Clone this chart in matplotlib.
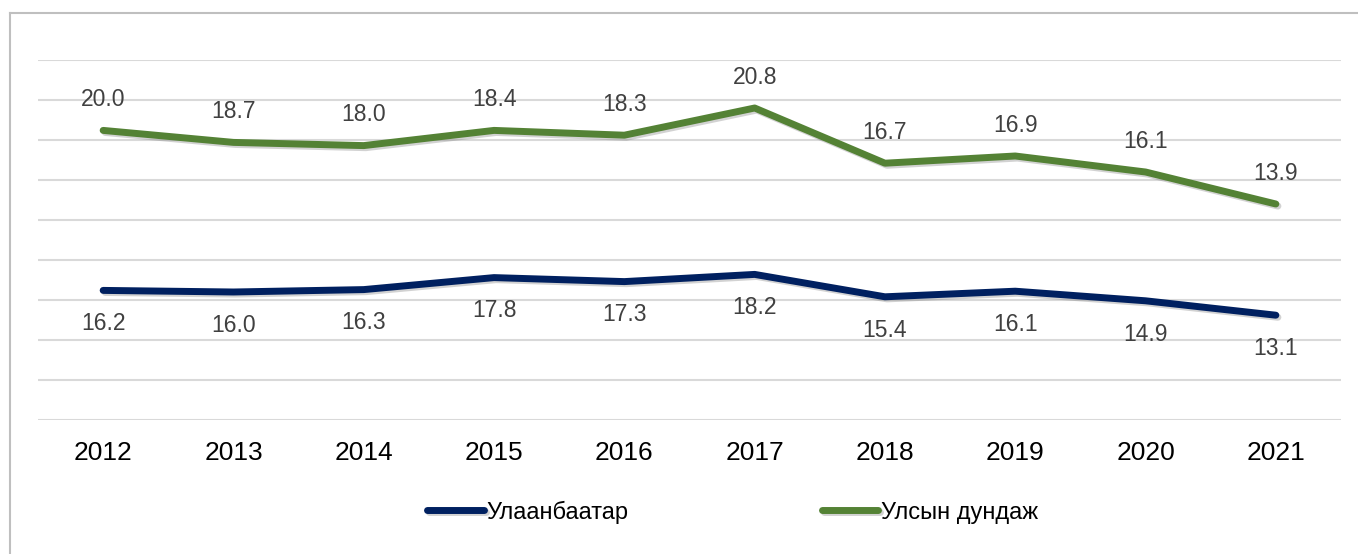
import matplotlib.pyplot as plt
import matplotlib.patheffects as pe
from matplotlib.lines import Line2D
import numpy as np

plt.rcParams['font.family'] = ['Liberation Sans', 'DejaVu Sans']

years = ["2012", "2013", "2014", "2015", "2016", "2017", "2018", "2019", "2020", "2021"]
ulaanbaatar = [16.2, 16.0, 16.3, 17.8, 17.3, 18.2, 15.4, 16.1, 14.9, 13.1]
national = [20.0, 18.7, 18.0, 18.4, 18.3, 20.8, 16.7, 16.9, 16.1, 13.9]

blue = "#002060"
green = "#548235"
label_color = "#404040"

# Stacked line chart: the national series is drawn on top of Ulaanbaatar.
x = np.arange(len(years))
stacked = np.array(ulaanbaatar) + np.array(national)

fig = plt.figure(figsize=(13.58, 5.54), dpi=100)
ax = fig.add_axes([38 / 1358, 134 / 554, 1303 / 1358, 360 / 554])

shadow = [pe.SimpleLineShadow(offset=(1.5, -1.5), shadow_color="gray", alpha=0.35), pe.Normal()]
ax.plot(x, ulaanbaatar, color=blue, lw=5, solid_capstyle="round", label="Улаанбаатар",
        path_effects=shadow, zorder=3)
ax.plot(x, stacked, color=green, lw=5, solid_capstyle="round", label="Улсын дундаж",
        path_effects=shadow, zorder=3)

for xi, yi, v in zip(x, ulaanbaatar, ulaanbaatar):
    ax.annotate(f"{v:.1f}", (xi, yi), xytext=(0, -24), textcoords="offset points",
                ha="center", va="center", fontsize=16.5, color=label_color)
for xi, yi, v in zip(x, stacked, national):
    ax.annotate(f"{v:.1f}", (xi, yi), xytext=(0, 22.3), textcoords="offset points",
                ha="center", va="center", fontsize=16.5, color=label_color)

ax.set_xlim(-0.5, len(years) - 0.5)
ax.set_ylim(0, 45)
ax.set_yticks(np.arange(0, 46, 5))
ax.yaxis.grid(True, color="#d9d9d9", lw=1.5)
ax.set_axisbelow(True)
ax.set_yticklabels([])
ax.tick_params(axis="y", length=0)
ax.set_xticks(x)
ax.set_xticklabels(years, fontsize=19, color="#000000")
ax.tick_params(axis="x", length=0, pad=15)
for s in ax.spines.values():
    s.set_visible(False)

fig.legend(loc="center", bbox_to_anchor=(732.5 / 1358, 1 - 512 / 554), ncol=2, frameon=False,
           fontsize=17, handlelength=2.4, handletextpad=0.1, columnspacing=8.2)

# chart area border (top and left only, rest is cropped)
fig.add_artist(Line2D([10 / 1358, 1], [1 - 12.5 / 554, 1 - 12.5 / 554], color="#bfbfbf", lw=1.5))
fig.add_artist(Line2D([10 / 1358, 10 / 1358], [0, 1 - 12.5 / 554], color="#bfbfbf", lw=1.5))

fig.savefig("out.png", dpi=100)
